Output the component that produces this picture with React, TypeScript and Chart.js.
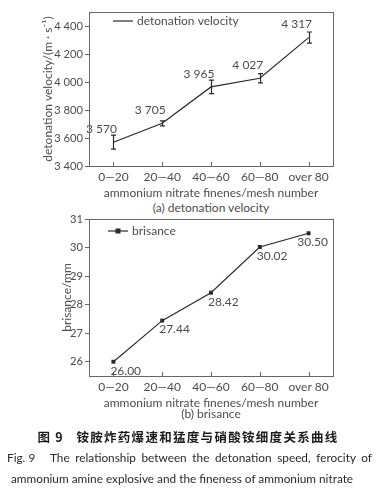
import React, { useEffect, useRef } from 'react';
import { Chart, registerables } from 'chart.js';
Chart.register(...registerables);

const categories = ['0\u201420', '20\u201440', '40\u201460', '60\u201480', 'over 80'];
const velocityValues = [3570, 3705, 3965, 4027, 4317];
const velocityErrors = [50, 18, 48, 33, 40];
const velocityTicks = [3400, 3600, 3800, 4000, 4200, 4400];
const brisanceValues = [26.0, 27.44, 28.42, 30.02, 30.5];
const brisanceTicks = [26, 27, 28, 29, 30, 31];

const FONT = 'Lato, "Noto Sans", sans-serif';
const TEXT = '#4d4d4d';
const LINE = '#2a2a2a';
const BOX = '#666666';

const fmtThousands = (v: number) => {
  const s = String(Math.round(v));
  return s.length > 3 ? s.slice(0, s.length - 3) + ' ' + s.slice(s.length - 3) : s;
};

const decorPlugin = {
  id: 'decor',
  afterDatasetsDraw(chart: any, _args: any, opts: any) {
    const ctx = chart.ctx;
    const area = chart.chartArea;
    const xs = chart.scales.x;
    const ys = chart.scales.y;
    const meta = chart.getDatasetMeta(0);
    const ds = chart.data.datasets[0];
    ctx.save();
    // box
    ctx.strokeStyle = BOX;
    ctx.lineWidth = 1;
    ctx.strokeRect(Math.round(area.left) + 0.5, Math.round(area.top) + 0.5, Math.round(area.width), Math.round(area.height));
    // inward x ticks
    ctx.beginPath();
    chart.data.labels.forEach((_l: any, i: number) => {
      const x = Math.round(xs.getPixelForValue(i)) + 0.5;
      ctx.moveTo(x, area.bottom);
      ctx.lineTo(x, area.bottom - 4);
    });
    ctx.stroke();
    // error bars
    if (opts.errors) {
      ctx.strokeStyle = LINE;
      ctx.lineWidth = 1.2;
      opts.errors.forEach((e: number, i: number) => {
        const v = ds.data[i];
        const x = Math.round(meta.data[i].x) + 0.5;
        const y1 = ys.getPixelForValue(v + e);
        const y2 = ys.getPixelForValue(v - e);
        ctx.beginPath();
        ctx.moveTo(x, y1); ctx.lineTo(x, y2);
        ctx.moveTo(x - 2.5, y1); ctx.lineTo(x + 2.5, y1);
        ctx.moveTo(x - 2.5, y2); ctx.lineTo(x + 2.5, y2);
        ctx.stroke();
      });
    }
    // data labels
    ctx.fillStyle = TEXT;
    ctx.font = '12px ' + FONT;
    ctx.textBaseline = 'middle';
    ds.data.forEach((v: number, i: number) => {
      const p = meta.data[i];
      const txt = opts.format(v);
      const w = ctx.measureText(txt).width;
      if (opts.labelMode === 'above') {
        ctx.textAlign = 'center';
        ctx.fillText(txt, p.x - 12, p.y - 13);
      } else {
        ctx.textAlign = 'left';
        const x = Math.min(p.x - 3, area.right - 5 - w);
        ctx.fillText(txt, x, p.y + 9);
      }
    });
    // legend
    const lg = opts.legend;
    const ly = area.top + lg.dy;
    const lx = area.left + lg.dx;
    ctx.strokeStyle = LINE;
    ctx.lineWidth = 1.2;
    ctx.beginPath();
    ctx.moveTo(lx, ly); ctx.lineTo(lx + 20, ly);
    ctx.stroke();
    if (lg.marker) {
      ctx.fillStyle = LINE;
      ctx.fillRect(lx + 10 - 2.5, ly - 2.5, 5, 5);
    }
    ctx.fillStyle = TEXT;
    ctx.textAlign = 'left';
    ctx.textBaseline = 'middle';
    ctx.fillText(ds.label, lx + 24, ly);
    // y axis title (rotated)
    const yTitle = chart.options.scales.y.title.text;
    ctx.translate(area.left - opts.yTitleGap, (area.top + area.bottom) / 2);
    ctx.rotate(-Math.PI / 2);
    ctx.textAlign = 'center';
    ctx.font = '12px ' + FONT;
    ctx.fillText(yTitle, 0, 0, area.height - 2);
    ctx.restore();
  },
};

function makeConfig(kind: 'a' | 'b'): any {
  const isA = kind === 'a';
  const tickFont = { family: FONT, size: 12 };
  const numFont = { family: FONT, size: 11.2 };
  return {
    type: 'line',
    data: {
      labels: categories,
      datasets: [
        {
          label: isA ? 'detonation velocity' : 'brisance',
          data: isA ? velocityValues : brisanceValues,
          borderColor: LINE,
          backgroundColor: LINE,
          borderWidth: 1.2,
          pointRadius: isA ? 0 : 2.8,
          pointStyle: 'rect',
          pointBorderWidth: 0,
          tension: 0,
        },
      ],
    },
    options: {
      animation: false,
      responsive: false,
      devicePixelRatio: 1,
      layout: { padding: { left: 0, right: 47, top: isA ? 12 : 9, bottom: 0 } },
      plugins: {
        legend: { display: false },
        tooltip: { enabled: false },
        decor: {
          errors: isA ? velocityErrors : null,
          format: isA ? fmtThousands : (v: number) => v.toFixed(2),
          labelMode: isA ? 'above' : 'below',
          legend: isA ? { dx: 24, dy: 9, marker: false } : { dx: 19, dy: 12, marker: true },
          yTitleGap: isA ? 41 : 22,
        },
      },
      scales: {
        x: {
          type: 'category',
          offset: true,
          grid: { display: false, drawTicks: false },
          border: { display: false },
          ticks: { color: TEXT, font: tickFont, padding: 4, maxRotation: 0 },
          title: {
            display: true,
            text: 'ammonium nitrate finenes/mesh number',
            color: TEXT,
            font: tickFont,
            padding: { top: 0, bottom: 0 },
          },
          afterFit: (s: any) => { s.height = 34; },
        },
        y: {
          min: isA ? 3400 : 25.5,
          max: isA ? 4500 : 31,
          afterBuildTicks: (s: any) => {
            s.ticks = (isA ? velocityTicks : brisanceTicks).map((v) => ({ value: v }));
          },
          grid: { drawOnChartArea: false, tickLength: 4, color: BOX, lineWidth: 1 },
          border: { display: false },
          ticks: {
            color: TEXT,
            font: numFont,
            padding: 2,
            callback: (v: number) => (isA ? fmtThousands(v) : String(v)),
          },
          title: {
            display: false,
            text: isA ? 'detonation velocity/(m \u00b7 s\u207b\u00b9)' : 'brisance/mm',
          },
          afterFit: (s: any) => { s.width = 89; },
        },
      },
    },
    plugins: [decorPlugin],
  };
}

function ChartCanvas({ kind, top }: { kind: 'a' | 'b'; top: number }) {
  const ref = useRef<HTMLCanvasElement>(null);
  useEffect(() => {
    if (!ref.current) return;
    const chart = new Chart(ref.current, makeConfig(kind));
    return () => chart.destroy();
  }, [kind]);
  return (
    <canvas
      ref={ref}
      width={380}
      height={200}
      style={{ position: 'absolute', left: 0, top, width: 380, height: 200 }}
    />
  );
}

const textStyle: React.CSSProperties = {
  position: 'absolute',
  fontFamily: FONT,
  color: TEXT,
  whiteSpace: 'nowrap',
};

export default function App() {
  return (
    <div style={{ position: 'absolute', left: 0, top: 0, width: 380, height: 500, background: '#fff', overflow: 'hidden' }}>
      <ChartCanvas kind="a" top={0} />
      <div style={{ ...textStyle, left: 0, width: 422, top: 200, fontSize: 12, lineHeight: '16px', textAlign: 'center' }}>
        (a) detonation velocity
      </div>
      <ChartCanvas kind="b" top={210} />
      <div style={{ ...textStyle, left: 0, width: 422, top: 406, fontSize: 12, lineHeight: '16px', textAlign: 'center' }}>
        (b) brisance
      </div>
      <div
        style={{
          ...textStyle,
          left: 0,
          width: 376,
          top: 427,
          fontSize: 12.5,
          lineHeight: '20px',
          textAlign: 'center',
          fontFamily: '"Noto Sans CJK SC", sans-serif',
          fontWeight: 700,
          color: '#1a1a1a',
          letterSpacing: 1.3,
        }}
      >
        图 9&nbsp;&nbsp;&nbsp;铵胺炸药爆速和猛度与硝酸铵细度关系曲线
      </div>
      <div
        style={{
          ...textStyle,
          left: 7,
          top: 448,
          fontSize: 11.8,
          lineHeight: '20px',
          color: '#2a2a2a',
        }}
      >
        Fig. 9
      </div>
      <div
        style={{
          ...textStyle,
          left: 50,
          width: 322,
          top: 448,
          fontSize: 11.8,
          lineHeight: '20px',
          textAlign: 'justify',
          textAlignLast: 'justify' as any,
          color: '#2a2a2a',
        }}
      >
        The relationship between the detonation speed, ferocity of
      </div>
      <div
        style={{
          ...textStyle,
          left: 11,
          top: 469,
          fontSize: 11.8,
          lineHeight: '20px',
          color: '#2a2a2a',
        }}
      >
        ammonium amine explosive and the fineness of ammonium nitrate
      </div>
    </div>
  );
}
